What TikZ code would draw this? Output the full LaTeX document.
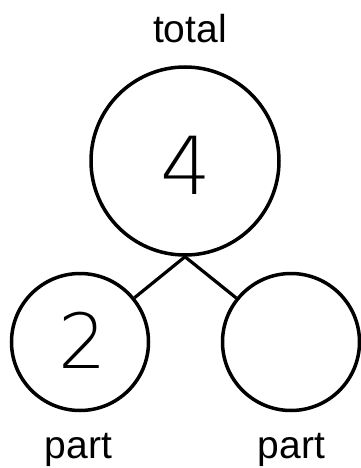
\documentclass[tikz,border=0pt]{standalone}
\usepackage{fontspec}
\setmainfont{Liberation Sans}
\newfontfamily\digitfont{DejaVu Sans ExtraLight}
\begin{document}
\begin{tikzpicture}[x=1pt,y=-1pt,
  ring/.style={circle,draw,line width=3.5pt,inner sep=0pt},
  lbl/.style={anchor=base,inner sep=0pt,font=\fontsize{39}{39}\selectfont},
  digit/.style={anchor=base,inner sep=0pt},
  link/.style={line width=3.2pt}]
\useasboundingbox (0,0) rectangle (361,468);
\node[ring,minimum size=188pt] (total) at (185,161) {};
\node[ring,minimum size=137pt] (left) at (80,342) {};
\node[ring,minimum size=137pt] (right) at (291,342) {};
\draw[link] (total.south) -- (left);
\draw[link] (total.south) -- (right);
\node[lbl] (ttl) at (190,43) {total};
\node[lbl] (p1) at (78.5,458) {part};
\node[lbl] (p2) at (291.5,458) {part};
\node[digit,font=\digitfont\fontsize{80}{80}\selectfont] (four) at (186,194) {4};
\node[digit,font=\digitfont\fontsize{76}{76}\selectfont] (two) at (82.5,368) {2};
\end{tikzpicture}
\end{document}
